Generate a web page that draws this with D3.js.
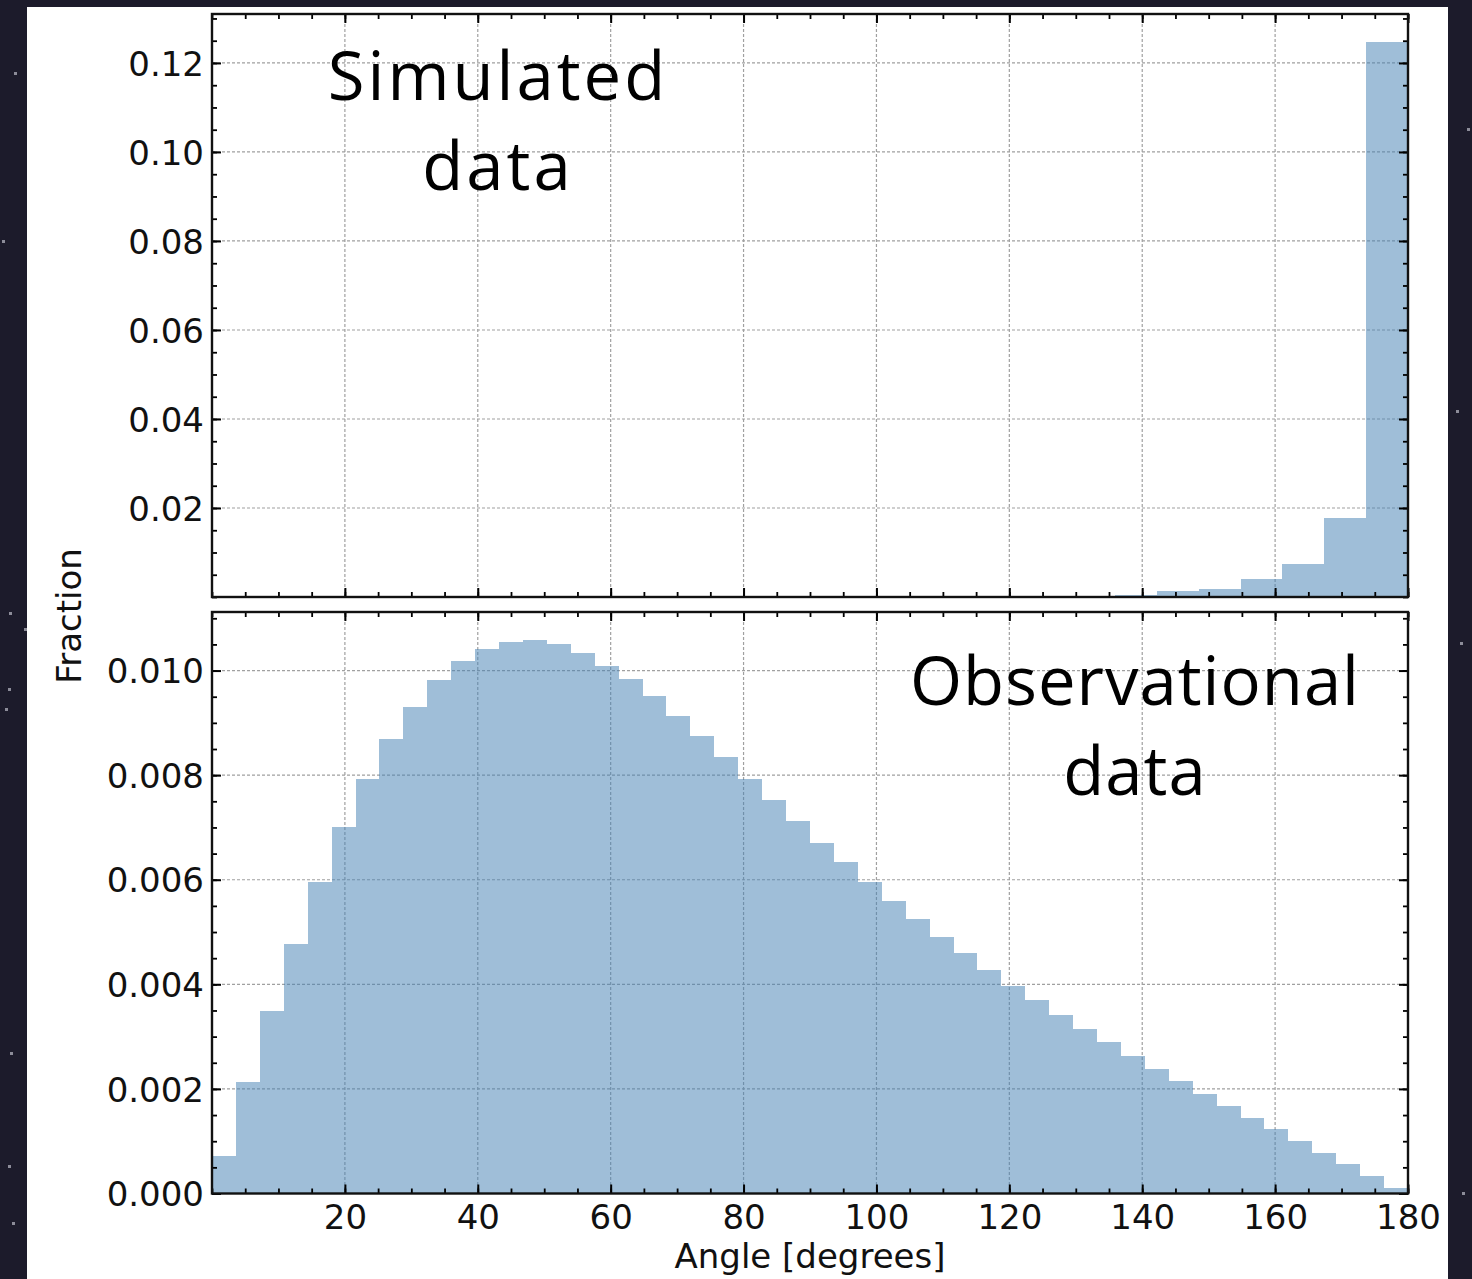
<!DOCTYPE html>
<html>
<head>
<meta charset="utf-8">
<script src="https://cdn.jsdelivr.net/npm/d3@7"></script>
<style>
    body { margin: 0; background: #1c1b2b; }
    svg { display: block; }
</style>
</head>
<body>
<div id="chart"></div>
<script>
// simulated data: bin edges (degrees) and fraction per bin
const sim_edges = [129.6, 135.9, 142.2, 148.5, 154.8, 161.1, 167.4, 173.7, 180];
const sim_fraction = [0.0001, 0.0004, 0.0013, 0.0018, 0.0040, 0.0074, 0.0178, 0.1247];

// observational data: 50 bins of 3.6 degrees from 0 to 180
const obs_bin_width = 3.6;
const obs_fraction = [
    0.00072, 0.00214, 0.00349, 0.00478, 0.00596, 0.00701, 0.00793, 0.00870, 0.00930, 0.00982,
    0.01018, 0.01042, 0.01055, 0.01058, 0.01050, 0.01034, 0.01009, 0.00983, 0.00951, 0.00913,
    0.00874, 0.00834, 0.00793, 0.00753, 0.00713, 0.00671, 0.00633, 0.00596, 0.00559, 0.00525,
    0.00491, 0.00459, 0.00428, 0.00397, 0.00370, 0.00342, 0.00314, 0.00289, 0.00263, 0.00239,
    0.00215, 0.00190, 0.00168, 0.00145, 0.00123, 0.00100, 0.00078, 0.00056, 0.00034, 0.00011
];

const angle_ticks = [20, 40, 60, 80, 100, 120, 140, 160, 180];
const sim_y_ticks = [0.02, 0.04, 0.06, 0.08, 0.10, 0.12];
const obs_y_ticks = [0.000, 0.002, 0.004, 0.006, 0.008, 0.010];

(function() {
    const width = 1472,
        height = 1279,
        left = 212,
        right = 1408,
        bar_color = 'steelblue',
        label_font = '"DejaVu Sans", sans-serif',
        note_font = '"Open Sans", sans-serif';

    let svg = d3.select('#chart').append('svg')
        .attr('width', width)
        .attr('height', height);

    svg.append('rect')
        .attr('width', width)
        .attr('height', height)
        .attr('fill', '#1c1b2b');

    // a few faint specks on the dark border
    [[14, 72], [2, 240], [9, 612], [24, 628], [8, 688], [5, 708], [28, 775], [10, 1052], [8, 1165],
     [12, 1222], [1467, 128], [1456, 410], [1460, 642], [1462, 1192]].forEach(function(p) {
        svg.append('rect')
            .attr('x', p[0]).attr('y', p[1])
            .attr('width', 3).attr('height', 3)
            .attr('fill', '#8c8c99');
    });

    svg.append('rect')
        .attr('x', 27)
        .attr('y', 7)
        .attr('width', 1421)
        .attr('height', height - 7)
        .attr('fill', '#ffffff');

    let x = d3.scaleLinear().domain([0, 180]).range([left, right]);

    let draw_panel = function(fmt) {
        let y = d3.scaleLinear().domain(fmt.ydomain).range([fmt.bottom, fmt.top]);
        let g = svg.append('g');

        let grid = g.append('g')
            .attr('stroke', '#a0a0a0')
            .attr('stroke-width', 1.2)
            .attr('stroke-dasharray', '3,2');

        grid.selectAll('line.vx')
            .data(angle_ticks.filter((d) => d < 180))
            .enter().append('line')
            .attr('x1', (d) => x(d))
            .attr('x2', (d) => x(d))
            .attr('y1', fmt.top)
            .attr('y2', fmt.bottom);

        grid.selectAll('line.hy')
            .data(fmt.yticks.filter((d) => d > 0))
            .enter().append('line')
            .attr('x1', left)
            .attr('x2', right)
            .attr('y1', (d) => y(d))
            .attr('y2', (d) => y(d));

        g.append('g').selectAll('rect')
            .data(fmt.bins)
            .enter().append('rect')
            .attr('x', (d) => x(d.x0))
            .attr('y', (d) => y(d.value))
            .attr('width', (d) => x(d.x1) - x(d.x0))
            .attr('height', (d) => y(0) - y(d.value))
            .attr('fill', bar_color)
            .attr('fill-opacity', 0.52)
            .attr('shape-rendering', 'crispEdges');

        let minor_x = d3.range(0, 181, 5);
        let minor_y = d3.range(0, fmt.ydomain[1], fmt.yminor);

        let axes = [
            { axis: d3.axisBottom(x), at: 'translate(0,' + fmt.bottom + ')', dir: 'x', label: fmt.xlabels },
            { axis: d3.axisTop(x), at: 'translate(0,' + fmt.top + ')', dir: 'x', label: false },
            { axis: d3.axisLeft(y), at: 'translate(' + left + ',0)', dir: 'y', label: true },
            { axis: d3.axisRight(y), at: 'translate(' + right + ',0)', dir: 'y', label: false }
        ];

        axes.forEach(function(a) {
            let major = a.dir === 'x' ? angle_ticks : fmt.yticks;
            let minor = a.dir === 'x' ? minor_x : minor_y;

            let ga = g.append('g')
                .attr('transform', a.at)
                .call(a.axis.tickValues(minor).tickSize(-5).tickFormat(''));
            ga.select('.domain').remove();
            ga.selectAll('line').attr('stroke', '#000').attr('stroke-width', 1.8);

            let fmt_tick = a.dir === 'x' ? d3.format('d') : d3.format(fmt.yformat);
            let gb = g.append('g')
                .attr('transform', a.at)
                .call(a.axis.tickValues(major).tickSize(-9)
                    .tickPadding(a.dir === 'x' ? 11 : 8)
                    .tickFormat(a.label ? fmt_tick : ''));
            gb.select('.domain').remove();
            gb.selectAll('line').attr('stroke', '#000').attr('stroke-width', 2);
            gb.selectAll('text')
                .attr('fill', '#111')
                .attr('font-family', label_font)
                .attr('font-size', 34)
                .attr('dy', a.dir === 'y' ? '0.36em' : '0.71em');
        });

        g.append('rect')
            .attr('x', left)
            .attr('y', fmt.top)
            .attr('width', right - left)
            .attr('height', fmt.bottom - fmt.top)
            .attr('fill', 'none')
            .attr('stroke', '#111')
            .attr('stroke-width', 2.4);

        let note = g.append('text')
            .attr('font-family', note_font)
            .attr('font-size', 67)
            .attr('letter-spacing', fmt.spacing)
            .attr('fill', '#000')
            .attr('text-anchor', 'middle');

        fmt.note.forEach(function(line, i) {
            note.append('tspan')
                .attr('x', fmt.note_x)
                .attr('y', fmt.note_y + i * 90)
                .text(line);
        });
    };

    draw_panel({
        top: 14,
        bottom: 597,
        ydomain: [0, 0.131],
        yticks: sim_y_ticks,
        yminor: 0.005,
        yformat: '.2f',
        xlabels: false,
        bins: sim_fraction.map((v, i) => ({ x0: sim_edges[i], x1: sim_edges[i + 1], value: v })),
        note: ['Simulated', 'data'],
        note_x: 498,
        note_y: 100,
        spacing: 3
    });

    draw_panel({
        top: 612,
        bottom: 1193.5,
        ydomain: [0, 0.01112],
        yticks: obs_y_ticks,
        yminor: 0.0005,
        yformat: '.3f',
        xlabels: true,
        bins: obs_fraction.map((v, i) => ({ x0: i * obs_bin_width, x1: (i + 1) * obs_bin_width, value: v })),
        note: ['Observational', 'data'],
        note_x: 1135,
        note_y: 705,
        spacing: 1
    });

    svg.append('text')
        .attr('transform', 'translate(81,' + 616 + ') rotate(-90)')
        .attr('text-anchor', 'middle')
        .attr('font-family', label_font)
        .attr('font-size', 34)
        .attr('fill', '#111')
        .text('Fraction');

    svg.append('text')
        .attr('x', (left + right) / 2)
        .attr('y', 1268)
        .attr('text-anchor', 'middle')
        .attr('font-family', label_font)
        .attr('font-size', 34)
        .attr('fill', '#111')
        .text('Angle [degrees]');
}());
</script>
</body>
</html>
